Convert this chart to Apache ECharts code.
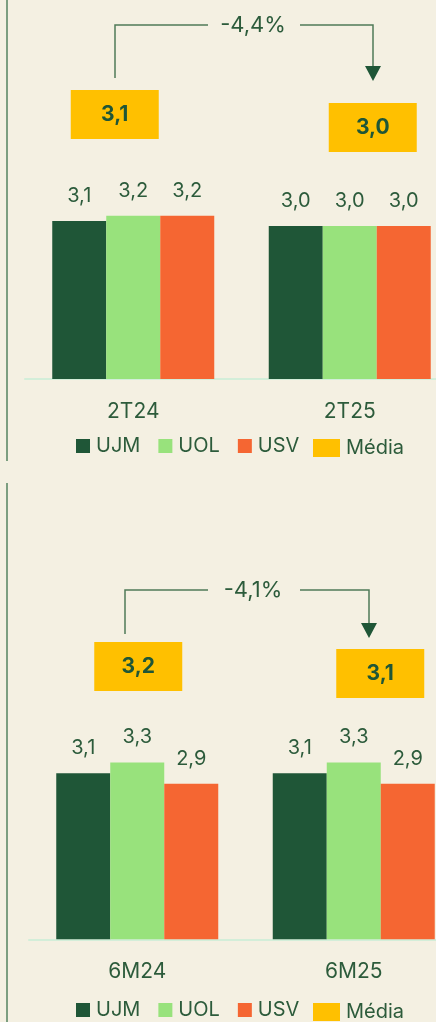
<!DOCTYPE html>
<html>
<head>
<meta charset="utf-8">
<script src="https://cdn.jsdelivr.net/npm/echarts@6/dist/echarts.min.js"></script>
<style>
  html, body { margin: 0; padding: 0; background: #f4f0e2; }
  #chartTop { width: 436px; height: 470px; }
  #chartBottom { width: 436px; height: 552px; }
</style>
</head>
<body>
<div id="chartTop"></div>
<div id="chartBottom"></div>
<script>
// dados - trimestre
const quarterLabels = ['2T24', '2T25'];
const quarterUJM = [3.1, 3.0];
const quarterUOL = [3.2, 3.0];
const quarterUSV = [3.2, 3.0];
const quarterMedia = [3.1, 3.0];
const quarterChange = '-4,4%';

// dados - semestre
const halfLabels = ['6M24', '6M25'];
const halfUJM = [3.1, 3.1];
const halfUOL = [3.3, 3.3];
const halfUSV = [2.9, 2.9];
const halfMedia = [3.2, 3.1];
const halfChange = '-4,1%';

const TEXT = '#2c5b3b';
const FONT = 'Inter';
const fmt = v => v.toFixed(1).replace('.', ',');

function barSeries(name, values, color) {
  return {
    name: name,
    type: 'bar',
    xAxisIndex: 0,
    yAxisIndex: 0,
    data: values,
    barWidth: 54,
    barGap: '0%',
    itemStyle: { color: color },
    label: {
      show: true,
      position: 'top',
      distance: 15,
      color: TEXT,
      fontSize: 20,
      fontFamily: FONT,
      formatter: p => fmt(p.value)
    }
  };
}

function buildOption(c) {
  const a = c.arrow;
  return {
    backgroundColor: '#f4f0e2',
    animation: false,
    textStyle: { fontFamily: FONT },
    grid: [
      { left: c.left, width: 433, top: c.barTop, height: c.barHeight, outerBoundsMode: 'none' },
      { left: c.left, width: 433, top: c.mediaTop, height: c.mediaHeight, outerBoundsMode: 'none' }
    ],
    xAxis: [
      {
        type: 'category', gridIndex: 0, data: c.labels,
        axisLine: { lineStyle: { color: '#d3eed9', width: 2 } },
        axisTick: { show: false },
        axisLabel: { color: TEXT, fontSize: 21, margin: 22, fontFamily: FONT }
      },
      { type: 'category', gridIndex: 1, data: c.labels, show: false }
    ],
    yAxis: [
      { type: 'value', gridIndex: 0, min: 0, max: 5, show: false, splitLine: { show: false } },
      { type: 'value', gridIndex: 1, min: c.mediaMin, max: c.mediaMax, show: false, splitLine: { show: false } }
    ],
    legend: [
      {
        data: [
          { name: 'UJM', icon: 'rect' },
          { name: 'UOL', icon: 'rect' },
          { name: 'USV', icon: 'rect' }
        ],
        left: 76, top: c.legendTop, padding: 0,
        itemWidth: 14, itemHeight: 14, itemGap: 18,
        textStyle: { color: TEXT, fontSize: 20, lineHeight: 18, fontFamily: FONT, padding: [0, 0, 0, 1] }
      },
      {
        data: [{ name: 'Média', icon: 'rect' }],
        left: 313, top: c.legendTop + 2, padding: 0,
        itemWidth: 27, itemHeight: 18,
        textStyle: { color: TEXT, fontSize: 20, lineHeight: 18, fontFamily: FONT, padding: [0, 0, 0, 1] }
      }
    ],
    series: [
      barSeries('UJM', c.ujm, '#1f5637'),
      barSeries('UOL', c.uol, '#98e27c'),
      barSeries('USV', c.usv, '#f56632'),
      {
        name: 'Média',
        type: 'scatter',
        xAxisIndex: 1,
        yAxisIndex: 1,
        clip: false,
        symbol: 'rect',
        symbolSize: [88, 49],
        itemStyle: { color: '#ffc000', opacity: 1 },
        data: c.media.map((v, i) => ({ value: v, symbolOffset: [c.boxShift[i], 0] })),
        label: {
          show: true,
          position: 'inside',
          color: '#1f5637',
          fontSize: 21,
          fontWeight: 'bold',
          fontFamily: FONT,
          formatter: p => fmt(p.value)
        }
      }
    ],
    graphic: [
      {
        type: 'line', silent: true,
        shape: { x1: 7, y1: c.vline[0], x2: 7, y2: c.vline[1] },
        style: { stroke: '#5e8a68', lineWidth: 1.6 }
      },
      {
        type: 'polyline', silent: true,
        shape: { points: [[a.x1, a.yStart], [a.x1, a.yLine], [208, a.yLine]] },
        style: { stroke: '#4f7a58', lineWidth: 1.5, fill: null }
      },
      {
        type: 'polyline', silent: true,
        shape: { points: [[300, a.yLine], [a.x2, a.yLine], [a.x2, a.yTip - 13]] },
        style: { stroke: '#4f7a58', lineWidth: 1.5, fill: null }
      },
      {
        type: 'polygon', silent: true,
        shape: { points: [[a.x2 - 8, a.yTip - 15], [a.x2 + 8, a.yTip - 15], [a.x2, a.yTip]] },
        style: { fill: '#1f5637' }
      },
      {
        type: 'text', silent: true,
        x: 253, y: a.yLine,
        style: {
          text: c.change, fill: TEXT, font: '22px ' + FONT,
          textAlign: 'center', textVerticalAlign: 'middle'
        }
      }
    ]
  };
}

const topChart = echarts.init(document.getElementById('chartTop'));
topChart.setOption(buildOption({
  labels: quarterLabels, ujm: quarterUJM, uol: quarterUOL, usv: quarterUSV,
  media: quarterMedia, change: quarterChange,
  left: 25, barTop: 124, barHeight: 255,
  mediaTop: 101.5, mediaHeight: 52, mediaMin: 2.8, mediaMax: 3.2,
  boxShift: [-18.5, 23],
  legendTop: 436,
  vline: [0, 461],
  arrow: { x1: 115, x2: 373, yStart: 78, yLine: 25, yTip: 81 }
}));

const bottomChart = echarts.init(document.getElementById('chartBottom'));
bottomChart.setOption(buildOption({
  labels: halfLabels, ujm: halfUJM, uol: halfUOL, usv: halfUSV,
  media: halfMedia, change: halfChange,
  left: 29, barTop: 201.3, barHeight: 268,
  mediaTop: 189.5, mediaHeight: 35, mediaMin: 2.8, mediaMax: 3.3,
  boxShift: [1, 26.5],
  legendTop: 530,
  vline: [13, 552],
  arrow: { x1: 125, x2: 369, yStart: 164, yLine: 120, yTip: 168 }
}));
</script>
</body>
</html>
